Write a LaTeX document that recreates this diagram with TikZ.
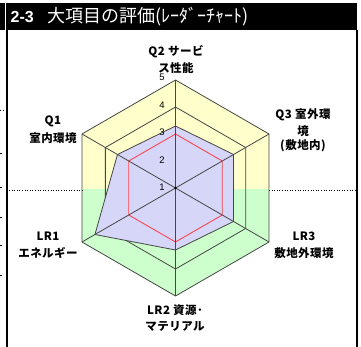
\documentclass[tikz,border=0pt]{standalone}
\usepackage{fontspec}
\setmainfont{Liberation Sans}
\newfontfamily\jp{Noto Sans CJK JP}[LetterSpace=4]
\newfontfamily\jpt{Noto Sans CJK JP}
\definecolor{yel}{RGB}{255,255,204}
\definecolor{grn}{RGB}{204,255,204}
\definecolor{lav}{RGB}{214,214,248}
\definecolor{gridc}{RGB}{70,70,70}
\definecolor{redc}{RGB}{250,70,80}
\tikzset{
  axlabel/.style={font=\jp\bfseries\fontsize{11.5}{13}\selectfont, inner sep=0pt, align=center},
  ticklab/.style={font=\fontsize{9.5}{11}\selectfont, inner sep=0pt},
  gridline/.style={draw=gridc, line width=0.8pt},
  spoke/.style={draw=gridc, line width=0.8pt},
  datapoly/.style={fill=lav, draw=gridc, line width=0.8pt},
  refpoly/.style={draw=redc, line width=0.9pt},
  framel/.style={line width=1.4pt, black},
  sepdots/.style={dotted, line width=0.6pt, black}
}
\begin{document}
\begin{tikzpicture}[x=1pt,y=-1pt,line join=round]
\useasboundingbox (0,0) rectangle (361,347);
\fill[white] (0,0) rectangle (361,347);
% title bar
\fill[black] (0,3) rectangle (357,30);
\draw[white, line width=0.9pt] (5.5,3) -- (5.5,30);
\node[anchor=west, inner sep=0pt, text=white] (title) at (10.5,17)
  {\fontsize{16}{18}\selectfont\bfseries 2-3\hspace{14pt}\jpt\mdseries\fontsize{18}{20}\selectfont 大項目の評価(ﾚｰﾀﾞｰﾁｬｰﾄ)};
% frame
\draw[framel] (7,30) -- (7,347);
\draw[framel] (357,30) -- (357,347);
% fragments at left edge
\draw[sepdots] (0,110) -- (5,110);
\foreach \yy in {153,187,217,245,275} \draw[line width=0.8pt] (0,\yy) -- (1.5,\yy);
% geometry
\coordinate (O) at (175.5,188);
\foreach \n/\a in {q2/-90,q3/-30,lr3/30,lr2/90,lr1/150,q1/210}{
  \coordinate (v5-\n) at ([shift={(\a:108)}]O);
  \coordinate (v4-\n) at ([shift={(\a:81)}]O);
  \coordinate (v3-\n) at ([shift={(\a:54)}]O);
}
% data points
\coordinate (d-q2)  at ([shift={(-90:62)}]O);
\coordinate (d-q3)  at ([shift={(-30:67)}]O);
\coordinate (d-lr3) at ([shift={(30:67)}]O);
\coordinate (d-lr2) at ([shift={(90:62)}]O);
\coordinate (d-lr1) at ([shift={(150:93)}]O);
\coordinate (d-q1)  at ([shift={(210:67)}]O);
% background
\begin{scope}
\clip (v5-q2) -- (v5-q3) -- (v5-lr3) -- (v5-lr2) -- (v5-lr1) -- (v5-q1) -- cycle;
\fill[yel] (0,0) rectangle (361,189);
\fill[grn] (0,189) rectangle (361,347);
\end{scope}
% dotted separator
\draw[sepdots] (9,190) -- (82,190);
\draw[sepdots] (269,190) -- (355,190);
% grid
\draw[gridline] (v5-q2) -- (v5-q3) -- (v5-lr3) -- (v5-lr2) -- (v5-lr1) -- (v5-q1) -- cycle;
\draw[gridline] (v4-q2) -- (v4-q3) -- (v4-lr3) -- (v4-lr2) -- (v4-lr1) -- (v4-q1) -- cycle;
% data
\path[datapoly] (d-q2) -- (d-q3) -- (d-lr3) -- (d-lr2) -- (d-lr1) -- (d-q1) -- cycle;
% reference level 3
\draw[refpoly] (v3-q2) -- (v3-q3) -- (v3-lr3) -- (v3-lr2) -- (v3-lr1) -- (v3-q1) -- cycle;
% spokes
\foreach \n in {q2,q3,lr3,lr2,lr1,q1} \draw[spoke] (O) -- (v5-\n);
\fill[black] (O) circle (1.3pt);
% tick labels
\foreach \k/\yy in {1/187,2/160,3/132,4/105,5/77}
  \node[ticklab] (t\k) at (162,\yy) {\k};
% axis labels
\node[axlabel] (lq2a) at (176,52) {Q2 サービ};
\node[axlabel] (lq2b) at (176,68) {ス性能};
\node[axlabel] (lq3a) at (303,115) {Q3 室外環};
\node[axlabel] (lq3b) at (303,131) {境};
\node[axlabel] (lq3c) at (303,146) {(敷地内)};
\node[axlabel] (lq1a) at (53,121) {Q1};
\node[axlabel] (lq1b) at (53,138) {室内環境};
\node[axlabel] (llr1a) at (48,236) {LR1};
\node[axlabel] (llr1b) at (48,253) {エネルギー};
\node[axlabel] (llr3a) at (304,236) {LR3};
\node[axlabel] (llr3b) at (304,253) {敷地外環境};
\node[axlabel] (llr2a) at (175,310) {LR2 資源･};
\node[axlabel] (llr2b) at (175,326) {マテリアル};
\end{tikzpicture}
\end{document}
